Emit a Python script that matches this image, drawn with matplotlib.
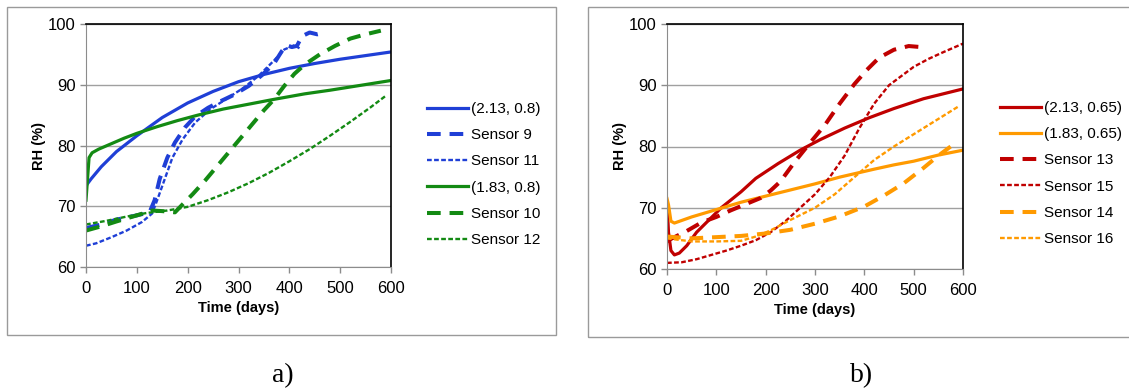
import matplotlib
matplotlib.use("Agg")
import matplotlib.pyplot as plt
from matplotlib.patches import Rectangle

plt.rcParams['font.family'] = ['Liberation Sans', 'DejaVu Sans']

# ---------- panel a) data (days, RH %) ----------
a_213_x = [0, 2, 10, 30, 60, 100, 150, 200, 250, 300, 350, 400, 450, 500, 550, 600]
a_213_y = [73.3, 73.6, 74.5, 76.5, 79.0, 81.6, 84.6, 87.0, 88.9, 90.5, 91.7, 92.7, 93.5, 94.2, 94.8, 95.4]

a_s9_x = [0, 30, 60, 100, 125, 135, 145, 160, 175, 195, 215, 240, 265, 290, 320, 345, 370, 385, 395, 405, 415, 425, 440, 455, 470]
a_s9_y = [66.4, 67.0, 67.8, 68.5, 69.0, 71.0, 74.5, 78.0, 80.5, 83.0, 84.8, 86.2, 87.3, 88.3, 89.8, 91.5, 93.5, 95.5, 96.5, 96.2, 96.4, 98.0, 98.6, 98.3, 98.6]

a_s11_x = [0, 20, 50, 80, 110, 130, 140, 155, 170, 190, 215, 245, 275, 310, 340, 370, 390, 410, 420]
a_s11_y = [63.5, 63.9, 64.9, 66.0, 67.4, 68.8, 71.0, 74.5, 78.0, 81.0, 83.8, 86.0, 87.6, 89.5, 91.5, 94.0, 95.8, 96.5, 96.0]

a_183_x = [0, 3, 6, 12, 25, 50, 75, 100, 140, 180, 220, 270, 320, 370, 430, 480, 540, 600]
a_183_y = [71.0, 74.5, 78.0, 78.8, 79.4, 80.3, 81.2, 82.0, 83.1, 84.1, 85.0, 86.0, 86.8, 87.6, 88.5, 89.1, 89.9, 90.7]

a_s10_x = [0, 30, 60, 100, 130, 150, 175, 190, 210, 235, 260, 290, 320, 350, 370, 390, 410, 430, 460, 490, 520, 550, 580]
a_s10_y = [66.0, 66.7, 67.5, 68.5, 69.3, 69.2, 69.0, 70.3, 72.0, 74.3, 76.8, 79.8, 82.8, 85.8, 87.6, 89.8, 91.8, 93.3, 95.0, 96.4, 97.6, 98.3, 98.9]

a_s12_x = [0, 40, 80, 120, 160, 200, 240, 280, 320, 360, 400, 440, 480, 520, 560, 590]
a_s12_y = [67.0, 67.6, 68.3, 68.9, 69.3, 69.9, 71.0, 72.3, 73.8, 75.5, 77.4, 79.4, 81.6, 83.9, 86.3, 88.2]

# ---------- panel b) data ----------
b_213_x = [0, 3, 8, 15, 25, 40, 60, 85, 110, 150, 180, 225, 270, 310, 360, 410, 460, 520, 560, 600]
b_213_y = [71.0, 66.0, 63.0, 62.3, 62.6, 63.8, 66.0, 68.0, 70.0, 72.6, 74.8, 77.2, 79.4, 81.1, 83.0, 84.7, 86.2, 87.8, 88.6, 89.4]

b_183_x = [0, 3, 8, 15, 50, 100, 150, 200, 250, 300, 350, 420, 460, 500, 550, 600]
b_183_y = [71.5, 70.5, 67.8, 67.5, 68.5, 69.7, 70.9, 71.9, 72.9, 73.9, 75.0, 76.3, 77.0, 77.6, 78.6, 79.4]

b_s13_x = [0, 10, 40, 70, 100, 130, 160, 190, 210, 230, 260, 290, 320, 350, 380, 405, 430, 460, 490, 520]
b_s13_y = [64.5, 65.0, 66.2, 67.6, 68.5, 69.6, 70.6, 71.6, 72.8, 74.3, 77.6, 80.6, 83.5, 87.0, 90.2, 92.5, 94.5, 95.8, 96.4, 96.2]

b_s15_x = [0, 30, 60, 90, 120, 150, 180, 210, 240, 270, 300, 330, 360, 390, 420, 450, 480, 500, 530, 560, 600]
b_s15_y = [61.0, 61.1, 61.6, 62.3, 63.0, 63.8, 64.7, 66.0, 67.8, 70.0, 72.2, 75.0, 78.5, 83.0, 87.0, 90.0, 91.8, 93.0, 94.3, 95.4, 96.8]

b_s14_x = [0, 50, 100, 150, 200, 250, 300, 350, 400, 440, 480, 520, 550, 580]
b_s14_y = [65.3, 65.0, 65.2, 65.4, 65.8, 66.4, 67.4, 68.6, 70.2, 72.0, 74.0, 76.5, 78.5, 80.3]

b_s16_x = [0, 50, 100, 150, 180, 210, 250, 300, 340, 380, 420, 460, 500, 540, 590]
b_s16_y = [65.0, 64.5, 64.5, 64.6, 65.3, 66.3, 68.0, 70.0, 72.2, 75.0, 77.8, 80.0, 82.0, 84.0, 86.5]

BLUE = '#1F3FD6'
GREEN = '#138A13'
RED = '#C00000'
ORANGE = '#FF9A00'

SOLID = dict(lw=2.3, ls='-')
DASHED = dict(lw=2.9, ls=(0, (3.4, 2.2)))
DOTTED = dict(lw=1.7, ls=(0, (2.0, 1.0)))

fig = plt.figure(figsize=(11.29, 3.92), dpi=100)

# chart borders (Excel style)
fig.patches.append(Rectangle((7 / 1129, 1 - 335 / 392), 549 / 1129, 328 / 392,
                             transform=fig.transFigure, fill=False, ec='#9a9a9a', lw=1.0))
fig.patches.append(Rectangle((588 / 1129, 1 - 337 / 392), 560 / 1129, 330 / 392,
                             transform=fig.transFigure, fill=False, ec='#9a9a9a', lw=1.0))

ax1 = fig.add_axes([86 / 1129, 1 - 267 / 392, 305 / 1129, 243 / 392])
ax2 = fig.add_axes([667 / 1129, 1 - 269 / 392, 296 / 1129, 245 / 392])

ax1.plot(a_213_x, a_213_y, color=BLUE, label='(2.13, 0.8)', **SOLID)
ax1.plot(a_s9_x, a_s9_y, color=BLUE, label='Sensor 9', **DASHED)
ax1.plot(a_s11_x, a_s11_y, color=BLUE, label='Sensor 11', **DOTTED)
ax1.plot(a_183_x, a_183_y, color=GREEN, label='(1.83, 0.8)', **SOLID)
ax1.plot(a_s10_x, a_s10_y, color=GREEN, label='Sensor 10', **DASHED)
ax1.plot(a_s12_x, a_s12_y, color=GREEN, label='Sensor 12', **DOTTED)

ax2.plot(b_213_x, b_213_y, color=RED, label='(2.13, 0.65)', **SOLID)
ax2.plot(b_183_x, b_183_y, color=ORANGE, label='(1.83, 0.65)', **SOLID)
ax2.plot(b_s13_x, b_s13_y, color=RED, label='Sensor 13', **DASHED)
ax2.plot(b_s15_x, b_s15_y, color=RED, label='Sensor 15', **DOTTED)
ax2.plot(b_s14_x, b_s14_y, color=ORANGE, label='Sensor 14', **DASHED)
ax2.plot(b_s16_x, b_s16_y, color=ORANGE, label='Sensor 16', **DOTTED)

for ax in (ax1, ax2):
    ax.set_xlim(0, 600)
    ax.set_ylim(60, 100)
    ax.set_xticks(range(0, 601, 100))
    ax.set_yticks(range(60, 101, 10))
    ax.grid(axis='y', color='#a0a0a0', lw=1.0)
    ax.set_axisbelow(True)
    for side in ('left', 'bottom'):
        ax.spines[side].set_color('#8c8c8c')
    for side in ('top', 'right'):
        ax.spines[side].set_color('black')
        ax.spines[side].set_linewidth(1.2)
    ax.tick_params(colors='#8c8c8c', labelcolor='black', labelsize=12,
                   length=4, width=1)
    ax.tick_params(axis='x', pad=6)
    ax.set_xlabel('Time (days)', fontweight='bold', fontsize=10.5, labelpad=4)
    ax.set_ylabel('RH (%)', fontweight='bold', fontsize=10.5, labelpad=1)

leg_kw = dict(frameon=False, fontsize=11, handlelength=2.7, handletextpad=0.2,
              labelspacing=0.8, loc='upper left', borderaxespad=0, borderpad=0)
ax1.legend(bbox_to_anchor=(427 / 1129, 1 - 102 / 392), bbox_transform=fig.transFigure, **leg_kw)
ax2.legend(bbox_to_anchor=(1000 / 1129, 1 - 101 / 392), bbox_transform=fig.transFigure, **leg_kw)

fig.text(283 / 1129, 1 - 376 / 392, 'a)', ha='center', va='center',
         family='Liberation Serif', fontsize=20)
fig.text(862 / 1129, 1 - 376 / 392, 'b)', ha='center', va='center',
         family='Liberation Serif', fontsize=20)

fig.savefig('out.png', dpi=100)
